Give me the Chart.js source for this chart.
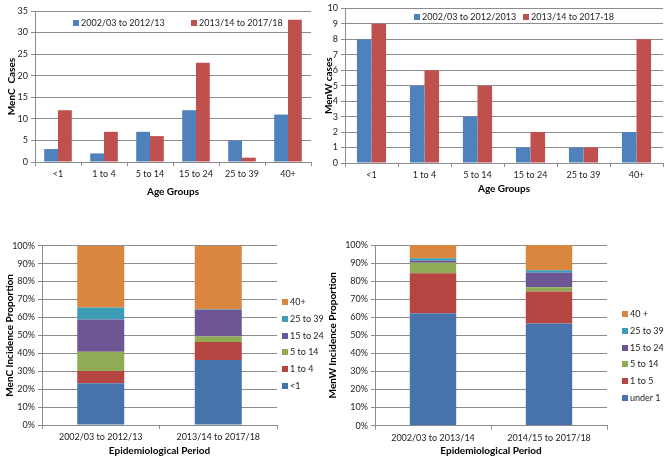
<!DOCTYPE html>
<html>
<head>
<meta charset="utf-8">
<script src="https://cdn.jsdelivr.net/npm/chart.js@4.4.1/dist/chart.umd.min.js"></script>
<style>
  html, body { margin: 0; padding: 0; background: #fff; }
  #page { position: relative; width: 666px; height: 461px; overflow: hidden; font-family: Lato, "Open Sans", sans-serif; }
  #page canvas { position: absolute; }
  .lg { position: absolute; font-size: 9px; line-height: 10px; color: #222; white-space: nowrap; }
  .lg i { display: inline-block; width: 6px; height: 6px; margin-right: 2px; vertical-align: 0px; }
</style>
</head>
<body>
<div id="page">
  <canvas id="c1" width="333" height="205" style="left:0;top:0"></canvas>
  <canvas id="c2" width="350" height="205" style="left:316px;top:0"></canvas>
  <canvas id="c3" width="333" height="226" style="left:0;top:235px"></canvas>
  <canvas id="c4" width="342" height="226" style="left:324px;top:235px"></canvas>
</div>
<script>
// ── Data ─────────────────────────────────────────────────────────────────────
const ageGroups = ["<1", "1 to 4", "5 to 14", "15 to 24", "25 to 39", "40+"];

const mencSeries = ["2002/03 to 2012/13", "2013/14 to 2017/18"];
const mencEarly = [3, 2, 7, 12, 5, 11];
const mencLate = [12, 7, 6, 23, 1, 33];

const menwSeries = ["2002/03 to 2012/2013", "2013/14 to 2017-18"];
const menwEarly = [8, 5, 3, 1, 1, 2];
const menwLate = [9, 6, 5, 2, 1, 8];

// proportions (%) per age group, one array per epidemiological period
const mencPeriods = ["2002/03 to 2012/13", "2013/14 to 2017/18"];
const mencGroups = ["<1", "1 to 4", "5 to 14", "15 to 24", "25 to 39", "40+"];
const mencShareEarly = [23.3, 6.8, 10.8, 18.0, 6.7, 34.4];
const mencShareLate = [36.2, 10.1, 3.0, 15.0, 0.3, 35.4];

const menwPeriods = ["2002/03 to 2013/14", "2014/15 to 2017/18"];
const menwGroups = ["under 1", "1 to 5", "5 to 14", "15 to 24", "25 to 39", "40 +"];
const menwShareEarly = [62.2, 22.1, 5.9, 1.1, 1.3, 7.4];
const menwShareLate = [56.6, 17.6, 2.4, 8.1, 1.3, 14.0];

// ── Styles ───────────────────────────────────────────────────────────────────
const FONT = "Lato, 'Open Sans', sans-serif";
const GRID = "#8c8c8c";
const TEXT = "#222";
const pairColors = ["#4F81BD", "#C0504D"];
const stackColors = ["#4872AB", "#B64542", "#8FAC55", "#6E5593", "#3E9BB6", "#DB863F"];

const tickFont = { family: FONT, size: 9 };
const titleFont = { family: FONT, size: 10, weight: "bold" };

function scales(o) {
  return {
    x: {
      stacked: !!o.stacked,
      grid: { display: true, drawOnChartArea: false, color: GRID, tickColor: GRID, tickLength: 4, offset: true },
      border: { color: GRID },
      ticks: { font: tickFont, color: TEXT, padding: 3, maxRotation: 0, autoSkip: false },
      title: { display: true, text: o.xTitle, font: titleFont, color: "#000", padding: { top: 0, bottom: o.xPad } },
      afterFit: (s) => { s.height = o.xHeight; },
    },
    y: {
      stacked: !!o.stacked,
      min: 0,
      max: o.max,
      grid: { color: GRID, tickColor: GRID, tickLength: 4 },
      border: { color: GRID },
      ticks: {
        font: tickFont, color: TEXT, padding: 3, stepSize: o.step,
        callback: (v) => (o.pct ? v + "%" : v),
      },
      title: { display: true, text: o.yTitle, font: titleFont, color: "#000", padding: { top: o.yPad, bottom: 0 } },
      afterFit: (s) => { s.width = o.yWidth; },
    },
  };
}

function makeChart(id, labels, datasets, pad, o) {
  return new Chart(document.getElementById(id), {
    type: "bar",
    data: { labels, datasets },
    options: {
      responsive: false,
      animation: false,
      devicePixelRatio: 1,
      layout: { padding: { top: pad.top, right: pad.right, left: 0, bottom: 0 } },
      plugins: { legend: { display: false }, tooltip: { enabled: false } },
      scales: scales(o),
    },
  });
}

function pairSets(names, a, b, cat) {
  return [a, b].map((d, i) => ({
    label: names[i], data: d, backgroundColor: pairColors[i],
    barPercentage: 1, categoryPercentage: cat, borderWidth: 0,
  }));
}

function stackSets(groups, early, late) {
  return groups.map((g, i) => ({
    label: g, data: [early[i], late[i]], backgroundColor: stackColors[i],
    barPercentage: 1, categoryPercentage: 0.4, borderWidth: 0,
  }));
}

// HTML legend, items placed at given positions (page coords)
function legend(names, colors, spots) {
  const page = document.getElementById("page");
  names.forEach((n, i) => {
    const el = document.createElement("div");
    el.className = "lg";
    el.style.left = spots[i][0] + "px";
    el.style.top = (spots[i][1] - 5) + "px";
    el.innerHTML = `<i style="background:${colors[i]}"></i>`;
    el.appendChild(document.createTextNode(n));
    page.appendChild(el);
  });
}

// ── Charts ───────────────────────────────────────────────────────────────────
makeChart("c1", ageGroups, pairSets(mencSeries, mencEarly, mencLate, 0.6), { top: 11, right: 22 },
  { xTitle: "Age Groups", yTitle: "MenC  Cases", max: 35, step: 5, yWidth: 35, xHeight: 43, yPad: 6, xPad: 7.3 });

makeChart("c2", ageGroups, pairSets(menwSeries, menwEarly, menwLate, 0.55), { top: 6, right: 3 },
  { xTitle: "Age Groups", yTitle: "MenW cases", max: 10, step: 1, yWidth: 29, xHeight: 42, yPad: 7, xPad: 10.3 });

makeChart("c3", mencPeriods, stackSets(mencGroups, mencShareEarly, mencShareLate), { top: 10.7, right: 56 },
  { stacked: true, pct: true, xTitle: "Epidemiological Period", yTitle: "MenC Incidence Proportion",
    max: 100, step: 10, yWidth: 42, xHeight: 36, yPad: 3.5, xPad: 4.5 });

makeChart("c4", menwPeriods, stackSets(menwGroups, menwShareEarly, menwShareLate), { top: 10, right: 59 },
  { stacked: true, pct: true, xTitle: "Epidemiological Period", yTitle: "MenW Incidence Proportion",
    max: 100, step: 10, yWidth: 51, xHeight: 35.4, yPad: 3, xPad: 4 });

legend(mencSeries, pairColors, [[73, 22.7], [191, 22.7]]);
legend(menwSeries, pairColors, [[414, 16.7], [523, 16.7]]);
legend(mencGroups.slice().reverse(), stackColors.slice().reverse(),
  [0, 1, 2, 3, 4, 5].map((i) => [282, 301.7 + 16.9 * i]));
legend(menwGroups.slice().reverse(), stackColors.slice().reverse(),
  [0, 1, 2, 3, 4, 5].map((i) => [622, 314.3 + 16.7 * i]));
</script>
</body>
</html>
